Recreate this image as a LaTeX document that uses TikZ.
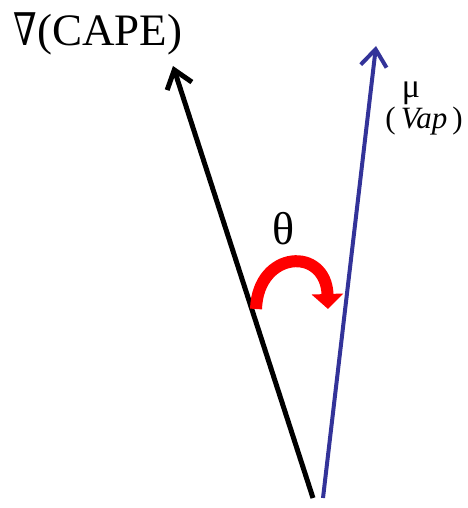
\documentclass[tikz,border=0pt]{standalone}
\usepackage{fontspec}
\setmainfont{Liberation Serif}
\newfontfamily\nablafont[FakeStretch=0.75]{DejaVu Serif}
\usetikzlibrary{arrows.meta,positioning}
\definecolor{vapblue}{RGB}{51,51,153}
\begin{document}
\begin{tikzpicture}[x=1pt,y=-1pt,>={Straight Barb[length=17pt,width=26pt]},thick]
        \useasboundingbox (0,0) rectangle (467,508);
        \coordinate (gradbase) at (313,498);
        \coordinate (gradtip) at (173,66);
        \coordinate (vapbase) at (323,498);
        \coordinate (vaptip) at (376,46);
        \coordinate (turnstart) at (256,309);
        \coordinate (turnend) at (328,309);
        \draw[->,line width=5pt] (gradbase) -- (gradtip);
        \draw[->,line width=4pt,vapblue] (vapbase) -- (vaptip);
        \draw[red,line width=12pt,-{Triangle[length=15pt,width=31pt]}] (turnstart) .. controls (258,250) and (326,246) .. (turnend);
        \node[font=\fontsize{45}{50}\selectfont,inner sep=0pt] (gradlabel) at (98,34) {{\nablafont ∇}(CAPE)};
        \node[font=\fontsize{46}{50}\selectfont] (anglelabel) at (284,229) {θ};
        \node[font=\fontsize{31}{34}\selectfont] (vaplabel) at (424,121) {(\,\textit{Vap}\,)};
        \node[font=\fontsize{34}{36}\selectfont,inner sep=0pt] (vapmark) at (411,93) {μ};
    \end{tikzpicture}
\end{document}
